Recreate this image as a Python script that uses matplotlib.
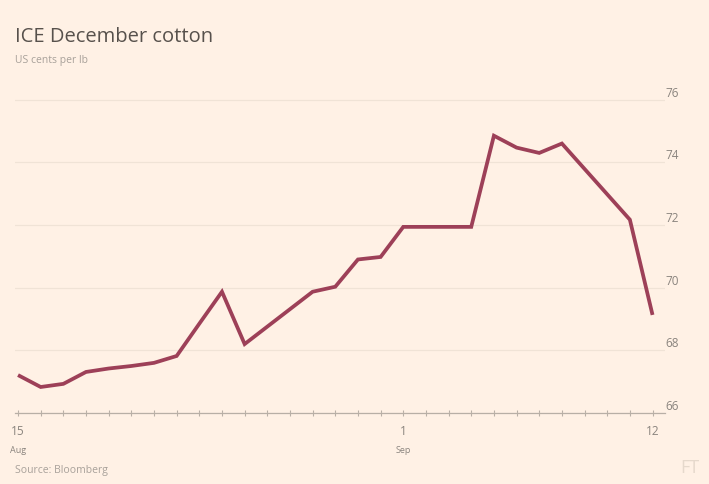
import numpy as np
import pandas as pd
import matplotlib
matplotlib.use('Agg')
import matplotlib.pyplot as plt
import matplotlib.dates as mdates

#-- data (2016) -------------------------------------------------------
dates = ['2016-08-15', '2016-08-16', '2016-08-17', '2016-08-18',
         '2016-08-19', '2016-08-20', '2016-08-21', '2016-08-22',
         '2016-08-23', '2016-08-24', '2016-08-25', '2016-08-28',
         '2016-08-29', '2016-08-30', '2016-08-31', '2016-09-01',
         '2016-09-04', '2016-09-05', '2016-09-06', '2016-09-07',
         '2016-09-08', '2016-09-11', '2016-09-12']
prices = [67.21, 66.83, 66.93, 67.31,
          67.42, 67.50, 67.60, 67.82,
          68.85, 69.87, 68.20, 69.87,
          70.03, 70.90, 70.98, 71.94,
          71.94, 74.85, 74.47, 74.30,
          74.60, 72.17, 69.13]

yticks = [66, 68, 70, 72, 74, 76]
xtick_dates = ['2016-08-15', '2016-09-01', '2016-09-12']
xtick_days = ['15', '1', '12']
xtick_months = ['Aug', 'Sep', '']

title = 'ICE December cotton'
subtitle = 'US cents per lb'
source = 'Source: Bloomberg'

#-- style --------------------------------------------------------------
bg = '#fff1e5'
line_col = '#9d4058'
grid_col = '#f0e3d6'
axis_col = '#b8afa6'
text_col = '#8a847e'
plt.rcParams['font.family'] = ['Open Sans', 'DejaVu Sans']

x = pd.to_datetime(dates)

fig = plt.figure(figsize=(7.09, 4.84), dpi=100, facecolor=bg)
ax = fig.add_axes([15 / 709, 71 / 484, 650 / 709, 329 / 484], facecolor=bg)

ax.plot(x, prices, color=line_col, lw=2.7, solid_joinstyle='miter',
        solid_capstyle='butt', zorder=3)

ax.set_ylim(66, 76.5)
x0 = pd.Timestamp('2016-08-15')
ax.set_xlim(x0 - pd.Timedelta(hours=3.2), x0 + pd.Timedelta(days=28.55))

# grid lines, right-hand labels sitting above them
ax.set_yticks(yticks)
ax.yaxis.tick_right()
ax.tick_params(axis='y', length=0, labelsize=8.5, labelcolor=text_col, pad=0)
for lab in ax.get_yticklabels():
    lab.set_verticalalignment('bottom')
    lab.set_horizontalalignment('left')
ax.grid(axis='y', color=grid_col, lw=0.9)
ax.grid(axis='x', visible=False)

for s in ['top', 'right', 'left']:
    ax.spines[s].set_visible(False)
ax.spines['bottom'].set_color(axis_col)
ax.spines['bottom'].set_linewidth(0.9)

# daily minor ticks, labelled majors
ax.xaxis.set_minor_locator(mdates.DayLocator())
ax.set_xticks(pd.to_datetime(xtick_dates))
ax.set_xticklabels(xtick_days)
ax.tick_params(axis='x', which='both', direction='inout', color=axis_col,
               length=5, width=0.8, labelsize=8.5, labelcolor=text_col, pad=6)
for d, m in zip(pd.to_datetime(xtick_dates), xtick_months):
    ax.text(d, -0.1, m, transform=ax.get_xaxis_transform(), ha='center',
            va='top', fontsize=6.5, color=text_col)

fig.text(15 / 709, 1 - 37 / 484, title, fontsize=14.5, color='#57514c',
         va='center', ha='left')
fig.text(15 / 709, 1 - 60 / 484, subtitle, fontsize=7.5, color='#a8a19a',
         va='center', ha='left')
fig.text(15 / 709, 1 - 470 / 484, source, fontsize=7.5, color='#a8a19a',
         va='center', ha='left')
fig.text(690 / 709, 1 - 468 / 484, 'FT', fontsize=13, color='#e6d9cc',
         va='center', ha='center')

fig.savefig('out.png', dpi=100, facecolor=bg)
